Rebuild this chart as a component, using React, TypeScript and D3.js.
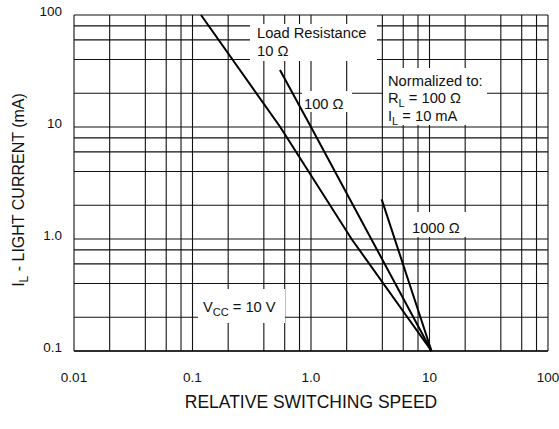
import React from 'react'
import { scaleLog } from 'd3'

// axis ticks
const xTicks = [0.01, 0.1, 1, 10, 100]
const xTickLabels = ['0.01', '0.1', '1.0', '10', '100']
const yTicks = [0.1, 1, 10, 100]
const yTickLabels = ['0.1', '1.0', '10', '100']

// grid: 1,2,4,6,8 in each decade
const gridSteps = [1, 2, 4, 6, 8]
const xDecades = [0.01, 0.1, 1, 10]
const yDecades = [0.1, 1, 10]

// load resistance curves [speed, current]
const load10 = [[0.118, 100], [0.55, 10], [2.2, 1], [10.4, 0.1]]
const load100 = [[0.547, 32.3], [1.0, 10], [10.4, 0.1]]
const load1000 = [[3.95, 2.26], [10.4, 0.1]]

const width = 559
const height = 429
const left = 74
const right = 548
const top = 15
const bottom = 351

const font = '"Liberation Sans", Arial, Helvetica, sans-serif'

function App() {
    const x = scaleLog().domain([0.01, 100]).range([left, right])
    const y = scaleLog().domain([0.1, 100]).range([bottom, top])

    const xGrid = xDecades.flatMap(d => gridSteps.map(s => d * s)).concat([100])
    const yGrid = yDecades.flatMap(d => gridSteps.map(s => d * s)).concat([100])

    const path = (pts: number[][]) =>
        pts.map((p, i) => `${i ? 'L' : 'M'}${x(p[0])},${y(p[1])}`).join('')

    const annot = { fontFamily: font, fontSize: 14.7, fill: '#111' }

    return (
        <svg
            width={width}
            height={height}
            style={{ position: 'absolute', left: 0, top: 0, background: '#fff' }}
        >
            <g stroke="#111" strokeWidth={1.1}>
                {xGrid.map(v => (
                    <line key={'x' + v} x1={x(v)} x2={x(v)} y1={top} y2={bottom} />
                ))}
                {yGrid.map(v => (
                    <line key={'y' + v} x1={left} x2={right} y1={y(v)} y2={y(v)} />
                ))}
                <line x1={left} x2={right} y1={bottom} y2={bottom} strokeWidth={1.6} />
            </g>

            {/* white label backgrounds */}
            <g fill="#fff">
                <rect x={250} y={24} width={127} height={37} />
                <rect x={302} y={91} width={50} height={21} />
                <rect x={383} y={68} width={104} height={57} />
                <rect x={404} y={212} width={67} height={25} />
                <rect x={198} y={289} width={87} height={34} />
            </g>

            <g fill="none" stroke="#000" strokeWidth={2}>
                <path d={path(load10)} />
                <path d={path(load100)} />
                <path d={path(load1000)} />
            </g>

            <g style={annot}>
                <text x={257} y={38}>Load Resistance</text>
                <text x={257} y={56}>10 Ω</text>
                <text x={304} y={109}>100 Ω</text>
                <text x={388} y={86}>Normalized to:</text>
                <text x={388} y={103}>
                    R<tspan fontSize={11} dy={4}>L</tspan>
                    <tspan dy={-4}> = 100 Ω</tspan>
                </text>
                <text x={388} y={121}>
                    I<tspan fontSize={11} dy={4}>L</tspan>
                    <tspan dy={-4}> = 10 mA</tspan>
                </text>
                <text x={412} y={233}>1000 Ω</text>
                <text x={203} y={312}>
                    V<tspan fontSize={11} dy={4}>CC</tspan>
                    <tspan dy={-4}> = 10 V</tspan>
                </text>
            </g>

            <g style={{ fontFamily: font, fontSize: 13.5, fill: '#111' }}>
                {xTicks.map((v, i) => (
                    <text key={v} x={x(v)} y={382} textAnchor="middle">
                        {xTickLabels[i]}
                    </text>
                ))}
                {yTicks.map((v, i) => (
                    <text key={v} x={62} y={y(v) + 0.5} textAnchor="end">
                        {yTickLabels[i]}
                    </text>
                ))}
            </g>

            <text
                x={x(1)}
                y={408}
                textAnchor="middle"
                style={{ fontFamily: font, fontSize: 17.5, fill: '#111' }}
            >
                RELATIVE SWITCHING SPEED
            </text>
            <text
                transform={`translate(24, 190) rotate(-90)`}
                textAnchor="middle"
                style={{ fontFamily: font, fontSize: 16, fill: '#111' }}
            >
                I<tspan fontSize={12} dy={4}>L</tspan>
                <tspan dy={-4}> - LIGHT CURRENT (mA)</tspan>
            </text>
        </svg>
    )
}

export default App
